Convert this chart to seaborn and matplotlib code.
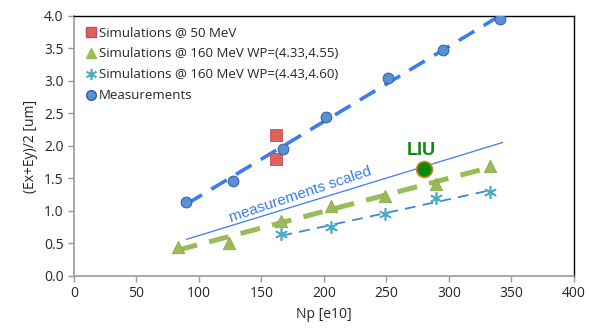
import numpy as np
import pandas as pd
import matplotlib
matplotlib.use("Agg")
import matplotlib.pyplot as plt
import seaborn as sns
from matplotlib.lines import Line2D

# Data
sim50_np = [162, 162]
sim50_eps = [2.17, 1.80]

sim160a_np = [83, 124, 166, 206, 249, 290, 333]
sim160a_eps = [0.45, 0.50, 0.85, 1.08, 1.23, 1.42, 1.69]

sim160b_np = [166, 206, 249, 290, 333]
sim160b_eps = [0.64, 0.75, 0.95, 1.20, 1.29]

meas_np = [90, 127, 167, 202, 251, 295, 341]
meas_eps = [1.14, 1.46, 1.95, 2.45, 3.05, 3.48, 3.95]

liu_np = [280]
liu_eps = [1.65]

scale_factor = 0.51
scaled_range = [90, 343]

sns.set_style("white")
plt.rcParams["font.family"] = ["Open Sans", "DejaVu Sans"]

fig = plt.figure(figsize=(5.89, 3.31), dpi=100)
ax = fig.add_axes([0.1256, 0.1662, 0.8489, 0.7855])

blue = "#3C7BF0"
green = "#9BBB59"
cyan = "#4BACC6"
red = "#E0605C"

# linear trend lines (like excel)
def trend(x, y, xr=None, k=1.0):
    p = np.polyfit(x, y, 1)
    xs = np.array(xr if xr is not None else [min(x), max(x)], dtype=float)
    return pd.DataFrame({"x": xs, "y": np.polyval(p, xs) * k})

t = trend(meas_np, meas_eps)
sns.lineplot(data=t, x="x", y="y", ax=ax, color=blue, lw=2.6, linestyle=(0, (5, 3)))
t = trend(sim160a_np, sim160a_eps)
sns.lineplot(data=t, x="x", y="y", ax=ax, color=green, lw=3.6, linestyle=(0, (4, 2.5)))
t = trend(sim160b_np, sim160b_eps)
sns.lineplot(data=t, x="x", y="y", ax=ax, color="#3E8ACD", lw=1.3, linestyle=(0, (6, 4)))
t = trend(meas_np, meas_eps, scaled_range, scale_factor)
sns.lineplot(data=t, x="x", y="y", ax=ax, color=blue, lw=0.9)

sns.scatterplot(x=sim50_np, y=sim50_eps, ax=ax, marker="s", s=70, color=red,
                edgecolor="#C0504D", linewidth=0.6, zorder=5)
sns.scatterplot(x=sim160a_np, y=sim160a_eps, ax=ax, marker="^", s=80, color=green,
                edgecolor="#8AA84A", linewidth=0.6, zorder=5)
sns.scatterplot(x=sim160b_np, y=sim160b_eps, ax=ax, marker=(6, 2, 0), s=70, color=cyan,
                edgecolor=cyan, linewidth=1.2, zorder=5)
sns.scatterplot(x=meas_np, y=meas_eps, ax=ax, marker="o", s=60, color="#5B8FD6",
                edgecolor="#2F5F9F", linewidth=0.7, zorder=6)
sns.scatterplot(x=liu_np, y=liu_eps, ax=ax, marker="o", s=130, color="#0A8A0A",
                edgecolor="#D08030", linewidth=1.2, zorder=7)

ax.text(liu_np[0] - 2, liu_eps[0] + 0.15, "LIU", color="#0A8A0A", fontsize=13,
        fontweight="bold", ha="center", va="bottom", family=["Liberation Sans"])
ax.text(181, 1.25, "measurements scaled", color=blue, fontsize=11, rotation=18.5,
        ha="center", va="center", family=["Liberation Sans"])

ax.set_xlim(0, 400)
ax.set_ylim(0, 4.0)
ax.set_xticks(np.arange(0, 401, 50))
ax.set_yticks(np.arange(0, 4.01, 0.5))
ax.set_yticklabels([f"{v:.1f}" for v in np.arange(0, 4.01, 0.5)])
ax.set_xlabel("Np [e10]", fontsize=10)
ax.set_ylabel("(Ex+Ey)/2 [um]", fontsize=10)
ax.tick_params(axis="both", labelsize=10, length=4, width=1, color="#999999",
               direction="out", left=True, bottom=True)
for s in ["top", "right"]:
    ax.spines[s].set_color("black")
    ax.spines[s].set_linewidth(1.0)
for s in ["left", "bottom"]:
    ax.spines[s].set_color("#999999")
    ax.spines[s].set_linewidth(1.2)

handles = [
    Line2D([], [], marker="s", ls="", color=red, markersize=7, markeredgecolor="#C0504D"),
    Line2D([], [], marker="^", ls="", color=green, markersize=7),
    Line2D([], [], marker=(6, 2, 0), ls="", color=cyan, markersize=8, markeredgewidth=1.2),
    Line2D([], [], marker="o", ls="", color="#5B8FD6", markersize=7, markeredgecolor="#2F5F9F"),
]
labels = ["Simulations @ 50 MeV", "Simulations @ 160 MeV WP=(4.33,4.55)",
          "Simulations @ 160 MeV WP=(4.43,4.60)", "Measurements"]
ax.legend(handles, labels, loc="upper left", frameon=False, fontsize=9.5,
          handletextpad=0.1, handlelength=1.0, borderaxespad=0.2, labelspacing=0.6,
          bbox_to_anchor=(0.005, 0.99))

fig.savefig("out.png", dpi=100)
